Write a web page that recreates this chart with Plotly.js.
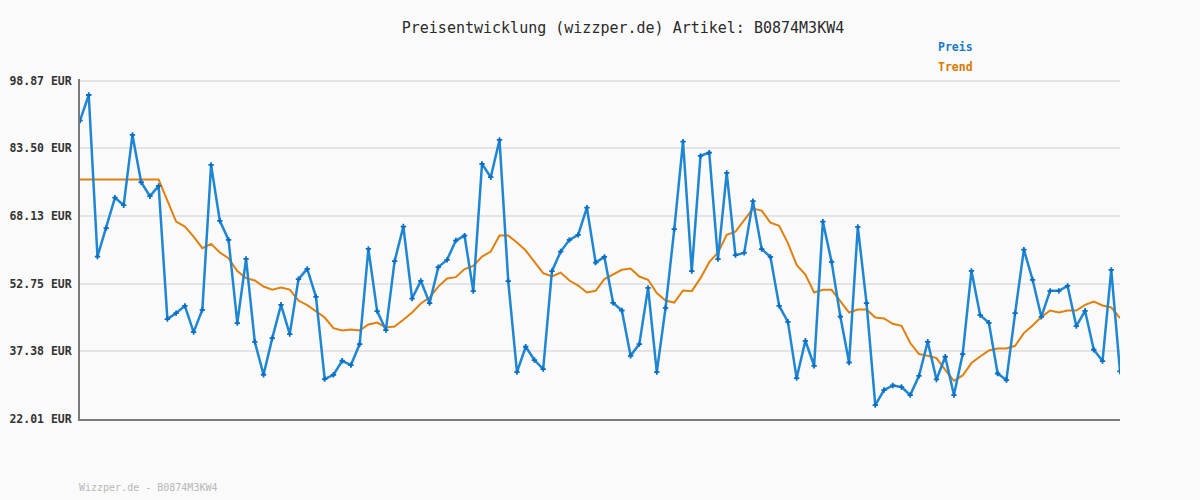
<!DOCTYPE html>
<html>
<head>
<meta charset="utf-8">
<script src="https://cdn.plot.ly/plotly-3.0.1.min.js"></script>
<style>html,body{margin:0;padding:0;background:#fafafa;}#chart{width:1200px;height:500px;}</style>
</head>
<body>
<div id="chart"></div>
<script>
const preis = [89.79, 95.62, 58.92, 65.37, 72.31, 70.58, 86.54, 75.80, 72.63, 74.97,
44.70, 46.07, 47.72, 41.75, 46.82, 79.73, 67.02, 62.71, 43.80, 58.39,
39.55, 32.06, 40.39, 47.95, 41.30, 53.79, 56.12, 49.77, 31.08, 32.06,
35.24, 34.26, 39.03, 60.66, 46.52, 42.21, 57.87, 65.73, 49.38, 53.40,
48.34, 56.51, 58.17, 62.55, 63.68, 51.06, 79.96, 76.94, 85.41, 53.33,
32.67, 38.42, 35.40, 33.35, 55.60, 60.05, 62.71, 63.84, 70.04, 57.55,
58.85, 48.40, 46.66, 36.37, 39.03, 51.81, 32.67, 47.27, 65.14, 85.02,
55.60, 81.78, 82.53, 58.33, 77.92, 59.23, 59.76, 71.49, 60.60, 58.85,
47.72, 44.09, 31.31, 39.78, 34.10, 66.86, 57.71, 45.29, 34.85, 65.66,
48.34, 25.18, 28.59, 29.63, 29.27, 27.45, 31.83, 39.55, 30.99, 36.15,
27.45, 36.76, 55.67, 45.61, 43.87, 32.35, 30.86, 46.07, 60.50, 53.63,
45.23, 51.13, 51.13, 52.26, 43.12, 46.59, 37.74, 35.17, 55.90, 32.81];

const trend = [76.40, 76.40, 76.40, 76.40, 76.40, 76.40, 76.40, 76.40, 76.40, 76.40,
71.63, 66.86, 65.73, 63.46, 60.82, 61.80, 59.82, 58.55, 55.60, 54.01,
53.47, 52.10, 51.36, 51.88, 51.42, 48.93, 47.88, 46.43, 45.07, 42.66,
42.12, 42.34, 42.12, 43.48, 43.93, 42.80, 43.02, 44.55, 46.20, 48.25,
49.61, 52.10, 53.92, 54.24, 56.06, 56.80, 58.92, 60.05, 63.68, 63.68,
62.09, 60.28, 57.78, 55.15, 54.38, 55.28, 53.47, 52.33, 50.74, 51.13,
53.79, 54.83, 55.90, 56.19, 54.38, 53.63, 50.61, 48.93, 48.47, 51.20,
51.06, 54.01, 57.64, 59.82, 63.84, 64.59, 67.25, 69.81, 69.36, 66.63,
65.89, 61.96, 57.03, 54.83, 50.74, 51.36, 51.36, 48.70, 46.20, 46.88,
46.88, 45.07, 44.84, 43.64, 43.18, 39.26, 36.76, 36.37, 35.85, 33.19,
30.70, 31.90, 34.72, 36.21, 37.58, 38.03, 38.03, 38.64, 41.53, 43.25,
45.16, 46.66, 46.20, 46.66, 46.66, 47.95, 48.70, 47.79, 47.34, 44.93];

const tickValues = [22.01, 37.38, 52.75, 68.13, 83.50, 98.87];
const tickLabels = ["22.01 EUR", "37.38 EUR", "52.75 EUR", "68.13 EUR", "83.50 EUR", "98.87 EUR"];
const seriesNames = ["Preis", "Trend"];
const titleText = "Preisentwicklung (wizzper.de) Artikel: B0874M3KW4";
const footerText = "Wizzper.de - B0874M3KW4";

const idx = preis.map((_, i) => i);
const mono = "DejaVu Sans Mono, Liberation Mono, monospace";
const blue = "#1f86d3";
const orange = "#e0800f";

// plot area: x 80..1120, y 79..419 (pixels)
const px = v => (v - 80) / 1040;
const py = v => (419 - v) / 340;

const data = [
  {x: idx, y: trend, type: "scatter", mode: "lines", name: seriesNames[1],
   line: {color: orange, width: 2}, hoverinfo: "skip"},
  {x: idx, y: preis, type: "scatter", mode: "lines+markers", name: seriesNames[0],
   line: {color: blue, width: 2.5}, marker: {symbol: "cross", size: 4.5, color: "#0a6fc4"}, hoverinfo: "skip"}
];

const layout = {
  width: 1200, height: 500,
  paper_bgcolor: "#fafafa", plot_bgcolor: "#fafafa",
  margin: {l: 80, r: 80, t: 79, b: 81},
  showlegend: false,
  title: {text: titleText, font: {family: mono, size: 15, color: "#2a2a2a"},
          x: 623/1200, xref: "container", xanchor: "center", y: 1 - 28/500, yref: "container", yanchor: "middle"},
  xaxis: {range: [0, preis.length - 1], showgrid: false, zeroline: false, showticklabels: false, ticks: "",
          showline: true, linecolor: "#7a7a7a", linewidth: 2, fixedrange: true},
  yaxis: {range: [22.01, 99.255], tickvals: tickValues, ticktext: tickLabels, ticks: "",
          showgrid: true, gridcolor: "#e4e4e4", gridwidth: 2, zeroline: false,
          showline: true, linecolor: "#7a7a7a", linewidth: 2, ticklabelstandoff: 4,
          tickfont: {family: mono, size: 11.5, color: "#333", weight: "bold"}, fixedrange: true},
  annotations: [
    {text: seriesNames[0], xref: "paper", yref: "paper", x: px(936), y: py(47), xanchor: "left", yanchor: "middle",
     showarrow: false, font: {family: mono, size: 11.5, color: "#1a7ac8", weight: "bold"}},
    {text: seriesNames[1], xref: "paper", yref: "paper", x: px(936), y: py(67), xanchor: "left", yanchor: "middle",
     showarrow: false, font: {family: mono, size: 11.5, color: "#d97a00", weight: "bold"}},
    {text: footerText, xref: "paper", yref: "paper", x: px(77), y: py(487), xanchor: "left", yanchor: "middle",
     showarrow: false, font: {family: mono, size: 10, color: "#b8b8b8"}}
  ]
};

Plotly.newPlot("chart", data, layout, {displayModeBar: false, staticPlot: true});
</script>
</body>
</html>
